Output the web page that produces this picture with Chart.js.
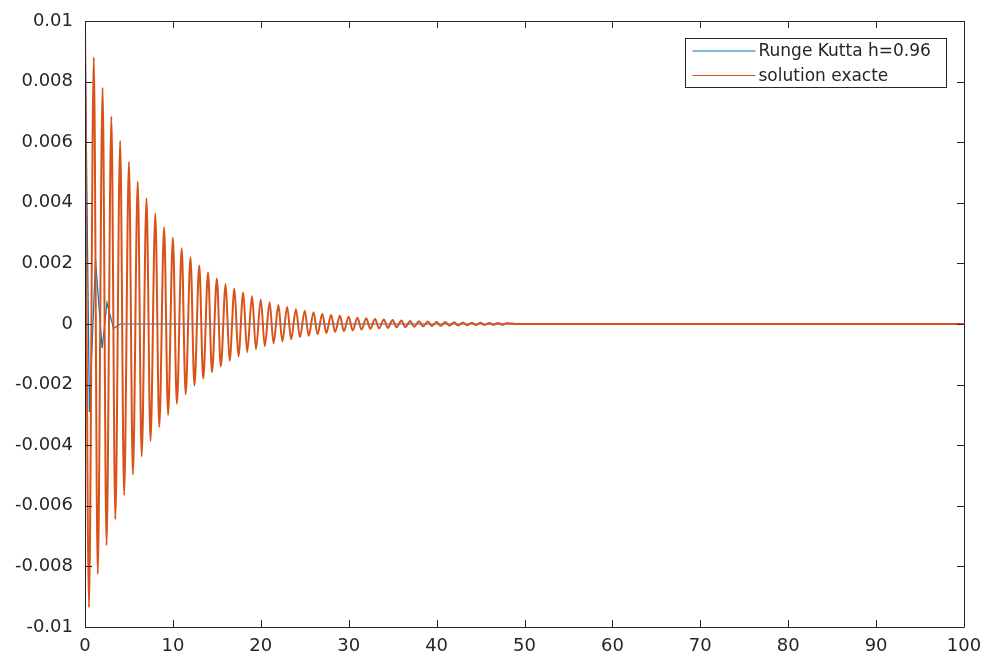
<!DOCTYPE html>
<html>
<head>
	<title></title>
<script src="https://cdn.jsdelivr.net/npm/chart.js@4/dist/chart.umd.min.js"></script>
<style>
    body { margin: 0; background: #fff; }
</style>
</head>
<body>
<div id="canvas-holder" style="width:986px;height:655px">
        <canvas id="linecanvas" width="986" height="655"></canvas>
</div>

<script>
    // exact solution: extrema (t, value)
    var exactT = [
        0, 0.45, 1, 1.45, 2, 2.45, 3, 3.45, 4, 4.45,
        5, 5.45, 6, 6.45, 7, 7.45, 8, 8.45, 9, 9.45,
        10, 10.45, 11, 11.45, 12, 12.45, 13, 13.45, 14, 14.45,
        15, 15.45, 16, 16.45, 17, 17.45, 18, 18.45, 19, 19.45,
        20, 20.45, 21, 21.45, 22, 22.45, 23, 23.45, 24, 24.45,
        25, 25.45, 26, 26.45, 27, 27.45, 28, 28.45, 29, 29.45,
        30, 30.45, 31, 31.45, 32, 32.45, 33, 33.45, 34, 34.45,
        35, 35.45, 36, 36.45, 37, 37.45, 38, 38.45, 39, 39.45,
        40, 40.45, 41, 41.45, 42, 42.45, 43, 43.45, 44, 44.45,
        45, 45.45, 46, 46.45, 47, 47.45, 48, 49, 100
    ];
    var exactY = [
        0.0100, -0.00935, 0.0088, -0.00825, 0.0078, -0.0073, 0.00685, -0.00645, 0.00605, -0.00565,
        0.00535, -0.00497, 0.0047, -0.00437, 0.00415, -0.00386, 0.00365, -0.0034, 0.0032, -0.0030,
        0.00285, -0.00263, 0.0025, -0.00232, 0.0022, -0.00203, 0.00193, -0.0018, 0.0017, -0.00159,
        0.0015, -0.0014, 0.00132, -0.00122, 0.00117, -0.00107, 0.00104, -0.00093, 0.00092, -0.00083,
        0.00081, -0.00073, 0.00072, -0.00064, 0.00063, -0.00057, 0.00056, -0.0005, 0.00049, -0.00044,
        0.00044, -0.00039, 0.00039, -0.00034, 0.00034, -0.0003, 0.0003, -0.000265, 0.00027, -0.000235,
        0.00024, -0.00021, 0.00021, -0.000185, 0.00019, -0.00016, 0.000165, -0.000145, 0.000145, -0.00013,
        0.00013, -0.00011, 0.000115, -0.0001, 0.0001, -0.000088, 0.00009, -0.000078, 0.00008, -0.000069,
        0.00007, -0.000061, 0.000062, -0.000054, 0.000055, -0.000048, 0.000048, -0.000042, 0.000043, -0.000037,
        0.000038, -0.000033, 0.000033, -0.000029, 0.00003, -0.000026, 0.000026, 0, 0
    ];

    // Runge Kutta h=0.96
    var rkT = [0, 0.5, 1.2, 1.95, 2.5, 3.25, 4.0, 100];
    var rkY = [0.01, -0.0029, 0.0021, -0.0008, 0.0007, -0.00015, 0, 0];

    var xTicks = [0, 10, 20, 30, 40, 50, 60, 70, 80, 90, 100];
    var yTicks = [-0.01, -0.008, -0.006, -0.004, -0.002, 0, 0.002, 0.004, 0.006, 0.008, 0.01];
    var yTickLabels = ['-0.01', '-0.008', '-0.006', '-0.004', '-0.002', '0', '0.002', '0.004', '0.006', '0.008', '0.01'];

    var seriesLabels = ['Runge Kutta h=0.96', 'solution exacte'];
    var axisColor = '#262626';

    function pairs(xs, ys) {
        return xs.map(function(x, i) { return {x: x, y: ys[i]}; });
    }

    // matlab style box: ticks inside on all four sides + legend in the corner
    var boxPlugin = {
        id: 'matlabBox',
        afterDraw: function(chart) {
            var ctx = chart.ctx, a = chart.chartArea;
            var xs = chart.scales.x, ys = chart.scales.y;
            var len = 7;
            ctx.save();
            ctx.strokeStyle = axisColor;
            ctx.lineWidth = 1;
            ctx.beginPath();
            ctx.rect(Math.round(a.left) + 0.5, Math.round(a.top) + 0.5,
                     Math.round(a.right - a.left), Math.round(a.bottom - a.top));
            xTicks.forEach(function(v) {
                var px = Math.round(xs.getPixelForValue(v)) + 0.5;
                ctx.moveTo(px, a.bottom); ctx.lineTo(px, a.bottom - len);
                ctx.moveTo(px, a.top); ctx.lineTo(px, a.top + len);
            });
            yTicks.forEach(function(v) {
                var py = Math.round(ys.getPixelForValue(v)) + 0.5;
                ctx.moveTo(a.left, py); ctx.lineTo(a.left + len, py);
                ctx.moveTo(a.right, py); ctx.lineTo(a.right - len, py);
            });
            ctx.stroke();

            // legend
            var w = 261, h = 49;
            var lx = Math.round(a.right - 18 - w) + 0.5, ly = Math.round(a.top + 17) + 0.5;
            ctx.fillStyle = '#fff';
            ctx.fillRect(lx, ly, w, h);
            ctx.strokeStyle = axisColor;
            ctx.strokeRect(lx, ly, w, h);
            ctx.font = '17px "DejaVu Sans"';
            ctx.textBaseline = 'middle';
            ctx.textAlign = 'left';
            chart.data.datasets.forEach(function(ds, i) {
                var ry = ly + 12.5 + i * 24.5;
                ctx.strokeStyle = ds.borderColor;
                ctx.lineWidth = 1.2;
                ctx.beginPath();
                ctx.moveTo(lx + 7, ry); ctx.lineTo(lx + 70, ry);
                ctx.stroke();
                ctx.fillStyle = axisColor;
                ctx.fillText(ds.label, lx + 73, ry + 1);
            });
            ctx.restore();
        }
    };

    var config = {
        type: 'line',
        data: {
            datasets: [{
                label: seriesLabels[0],
                data: pairs(rkT, rkY),
                borderColor: '#0072BD',
                borderWidth: 1.2,
                pointRadius: 0,
                tension: 0,
                order: 1
            }, {
                label: seriesLabels[1],
                data: pairs(exactT, exactY),
                borderColor: '#D95319',
                borderWidth: 2,
                pointRadius: 0,
                cubicInterpolationMode: 'monotone',
                order: 0
            }]
        },
        options: {
            responsive: false,
            animation: false,
            devicePixelRatio: 1,
            layout: { padding: { top: 21, right: 22, left: 0, bottom: 0 } },
            plugins: {
                legend: { display: false },
                tooltip: { enabled: false }
            },
            scales: {
                x: {
                    type: 'linear',
                    min: 0,
                    max: 100,
                    grid: { display: false, drawTicks: false },
                    border: { display: false },
                    afterBuildTicks: function(scale) {
                        scale.ticks = xTicks.map(function(v) { return {value: v}; });
                    },
                    afterFit: function(scale) {
                        scale.height = 28;
                        scale.paddingLeft = 0;
                        scale.paddingRight = 0;
                    },
                    ticks: {
                        autoSkip: false,
                        maxRotation: 0,
                        padding: 9,
                        color: axisColor,
                        font: { family: 'DejaVu Sans', size: 18 },
                        callback: function(v) { return String(v); }
                    }
                },
                y: {
                    type: 'linear',
                    min: -0.01,
                    max: 0.01,
                    grid: { display: false, drawTicks: false },
                    border: { display: false },
                    afterBuildTicks: function(scale) {
                        scale.ticks = yTicks.map(function(v) { return {value: v}; });
                    },
                    afterFit: function(scale) {
                        scale.width = 85;
                        scale.paddingTop = 0;
                        scale.paddingBottom = 0;
                    },
                    ticks: {
                        padding: 12,
                        color: axisColor,
                        font: { family: 'DejaVu Sans', size: 18 },
                        callback: function(v, i) { return yTickLabels[i]; }
                    }
                }
            }
        },
        plugins: [boxPlugin]
    };

    window.onload = function() {
        var ctx = document.getElementById("linecanvas").getContext("2d");
        window.myLine = new Chart(ctx, config);
    };
</script>
</body>
</html>
